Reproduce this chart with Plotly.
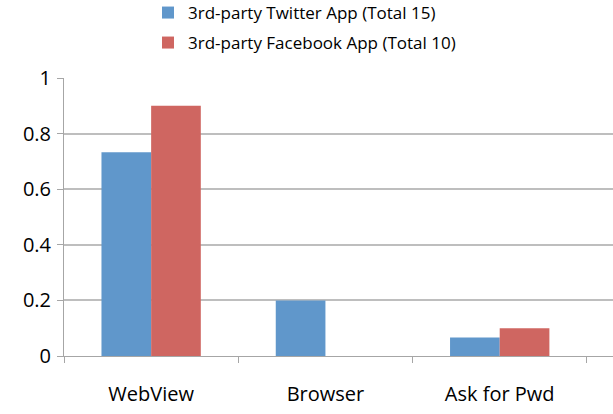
import plotly.graph_objects as go

categories = ["WebView", "Browser", "Ask for Pwd"]
twitter_vals = [0.7333, 0.2, 0.0667]
facebook_vals = [0.9, 0.0, 0.1]
twitter_name = "3rd-party Twitter App (Total 15)"
facebook_name = "3rd-party Facebook App (Total 10)"
y_ticks = [0, 0.2, 0.4, 0.6, 0.8, 1]
y_tick_labels = ["0", "0.2", "0.4", "0.6", "0.8", "1"]

W, H = 613, 414
ml, mr, mt, mb = 64, 0, 78, 58
pw = W - ml - mr
ph = H - mt - mb

fig = go.Figure()
fig.add_trace(go.Bar(x=categories, y=twitter_vals, name=twitter_name,
                     marker=dict(color="#6097CB", line=dict(width=0)), legend="legend"))
fig.add_trace(go.Bar(x=categories, y=facebook_vals, name=facebook_name,
                     marker=dict(color="#CF6661", line=dict(width=0)), legend="legend2"))

leg_x = 148 / W
font = "Open Sans, DejaVu Sans, sans-serif"
fig.update_layout(
    width=W, height=H,
    margin=dict(l=ml, r=mr, t=mt, b=mb, autoexpand=False),
    paper_bgcolor="white", plot_bgcolor="white",
    barmode="group", bargap=0.43, bargroupgap=0,
    font=dict(family=font, color="#000000"),
    showlegend=True,
    legend=dict(x=leg_x, xref="container", xanchor="left", y=1 - 13 / H, yref="container", yanchor="middle",
                font=dict(size=17, family=font), bgcolor="rgba(0,0,0,0)", borderwidth=0),
    legend2=dict(x=leg_x, xref="container", xanchor="left", y=1 - 43 / H, yref="container", yanchor="middle",
                 font=dict(size=17, family=font), bgcolor="rgba(0,0,0,0)", borderwidth=0),
    xaxis=dict(
        type="category", range=[-0.5, 2.65],
        tickson="boundaries", ticks="outside", ticklen=6, tickcolor="#A6A6A6", tickwidth=1,
        showline=True, linecolor="#A6A6A6", linewidth=1,
        showgrid=False, tickfont=dict(size=20, family=font), ticklabelstandoff=20,
    ),
    yaxis=dict(
        range=[0, 1], tickvals=y_ticks, ticktext=y_tick_labels,
        ticks="outside", ticklen=6, tickcolor="#A6A6A6", tickwidth=1,
        showline=True, linecolor="#A6A6A6", linewidth=1,
        showgrid=True, gridcolor="#BEBEBE", gridwidth=1.5,
        zeroline=False, tickfont=dict(size=20, family=font), ticklabelstandoff=2,
    ),
)

fig.write_html("out.html")
